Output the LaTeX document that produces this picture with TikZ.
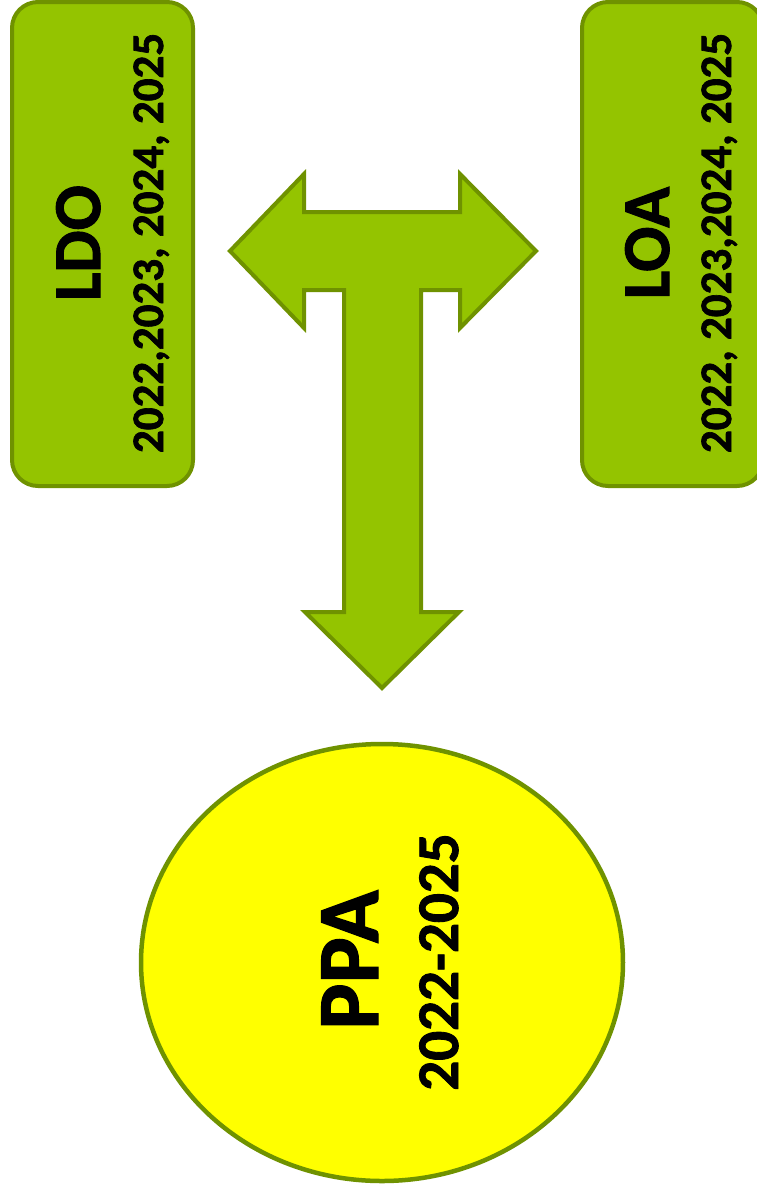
\documentclass[tikz,border=0pt]{standalone}
\usepackage{fontspec}
\setmainfont{Carlito}[BoldFeatures={FakeBold=1.5}]
\usetikzlibrary{shapes.geometric}
\definecolor{boxgreen}{RGB}{148,196,0}
\definecolor{edgegreen}{RGB}{111,146,0}
\definecolor{ppayellow}{RGB}{255,255,0}
\tikzset{
  greenbox/.style={draw=edgegreen, fill=boxgreen, line width=4pt, rounded corners=26pt, rectangle, minimum width=181pt, minimum height=484pt, inner sep=0pt},
  bigtxt/.style={rotate=90, anchor=base, inner sep=0pt, font=\fontsize{67}{67}\selectfont\bfseries},
  smalltxt/.style={rotate=90, anchor=base, inner sep=0pt, font=\fontsize{45}{45}\selectfont\bfseries},
  arrowshape/.style={draw=edgegreen, fill=boxgreen, line width=4pt, line join=miter},
}
\begin{document}
\begin{tikzpicture}[x=1pt,y=-1pt]
\useasboundingbox (0,0) rectangle (757,1192);
% boxes
\node[greenbox] (ldo) at (102.5,244) {};
\node[greenbox] (loa) at (672.5,244) {};
\node[bigtxt] (ldot) at (100,243) {LDO};
\node[smalltxt] (ldoy) at (163,243) {2022,2023, 2024, 2025};
\node[bigtxt] (loat) at (669,243) {LOA};
\node[smalltxt] (loay) at (731,243) {2022, 2023,2024, 2025};
% T arrow
\draw[arrowshape] (230,251) -- (304,174) -- (304,212) -- (460,212) -- (460,174) -- (536,251)
  -- (460,328) -- (460,290) -- (421,290) -- (421,612) -- (459,612) -- (382,688)
  -- (305,612) -- (344,612) -- (344,290) -- (304,290) -- (304,328) -- cycle;
% circle
\node[ellipse, draw=edgegreen, fill=ppayellow, line width=4.5pt, minimum width=482pt, minimum height=437pt, inner sep=0pt] (ppa) at (382,962.5) {};
\node[rotate=90, anchor=base, inner sep=0pt, font=\fontsize{87}{87}\selectfont\bfseries] (ppat) at (378,960) {PPA};
\node[rotate=90, anchor=base, inner sep=0pt, font=\fontsize{59}{59}\selectfont\bfseries] (ppay) at (458,962) {2022-2025};
\end{tikzpicture}
\end{document}
